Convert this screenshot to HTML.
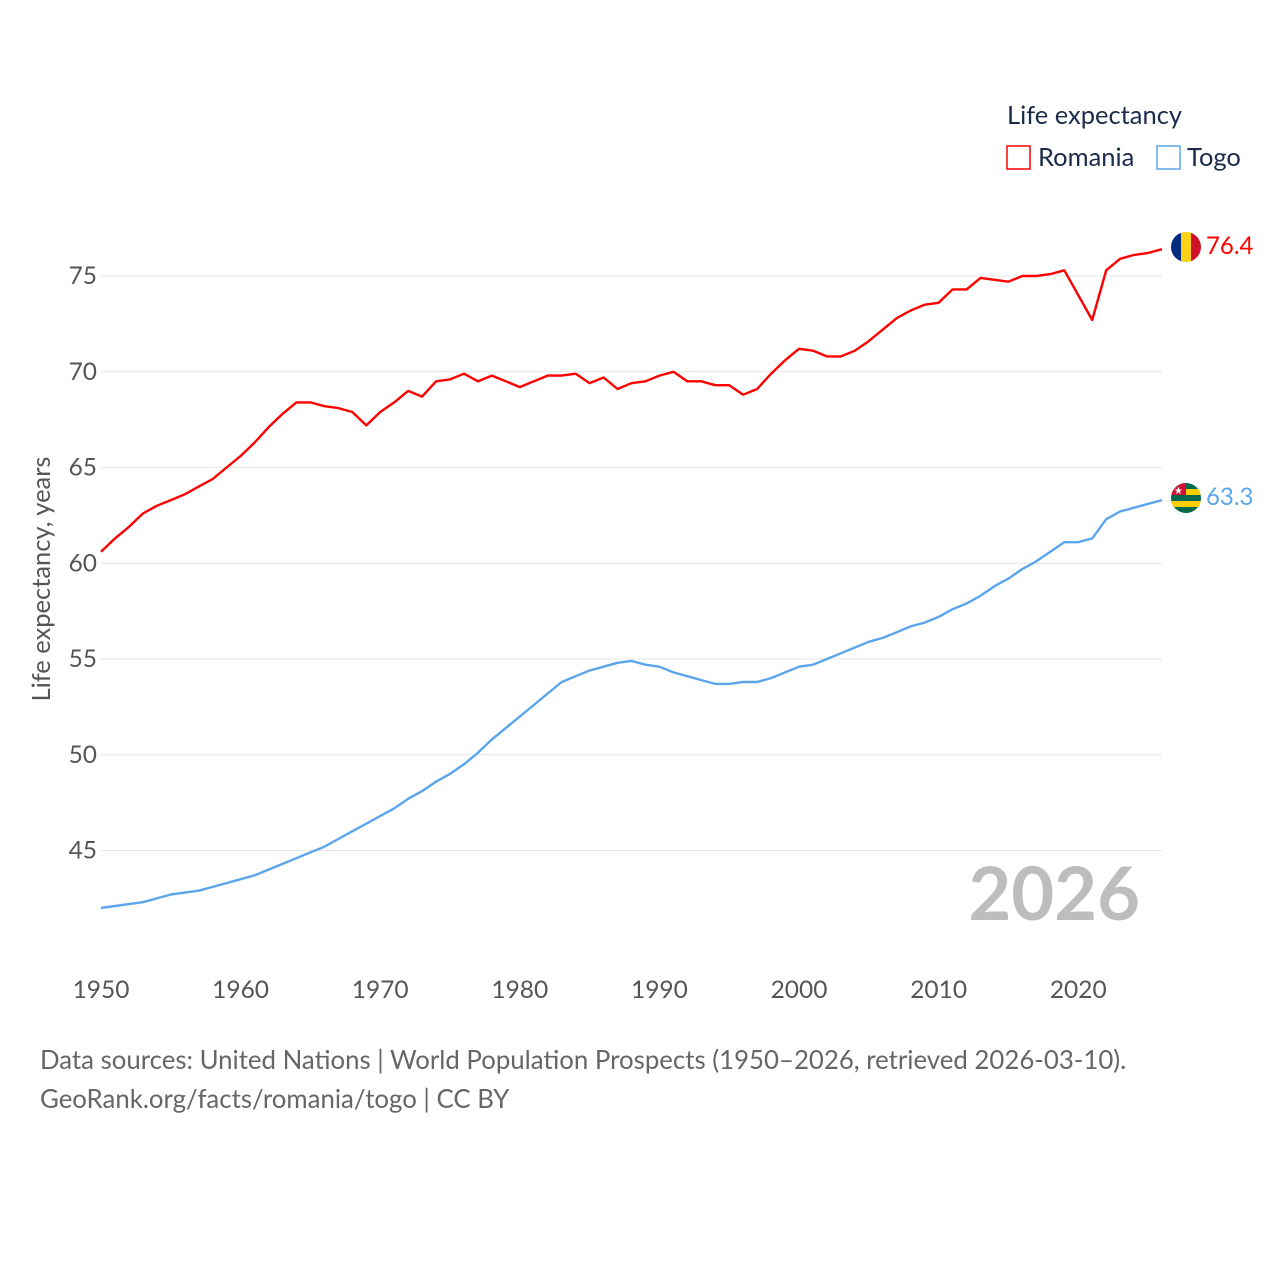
<!DOCTYPE html>
<html><head><meta charset="utf-8"><style>
body{margin:0;background:#fff;font-family:"Liberation Sans",sans-serif}
</style></head><body>
<svg width="1280" height="1280" xmlns="http://www.w3.org/2000/svg" font-family="Lato,'Liberation Sans',sans-serif">
<g id="grid"></g>
<g id="yticks"></g>
<g id="xticks"></g>
<text transform="translate(50,579) rotate(-90)" text-anchor="middle" font-size="25.5" fill="#555">Life expectancy, years</text>
<text x="1140" y="920" text-anchor="end" font-size="74" font-weight="bold" fill="#bdbdbd">2026</text>
<g id="series"></g>
<g>
<text x="1007" y="124" font-size="25.5" fill="#1b2b4b">Life expectancy</text>
<g><rect x="1007" y="146" width="23" height="23" fill="none" stroke="#ff0000" stroke-width="1.5"/><text x="1038" y="166" font-size="25.5" fill="#1b2b4b">Romania</text></g>
<g><rect x="1157" y="146" width="23" height="23" fill="none" stroke="#5aa5eb" stroke-width="1.5"/><text x="1187" y="166" font-size="25.5" fill="#1b2b4b">Togo</text></g>
</g>
<defs>
<clipPath id="c1"><circle cx="1186" cy="247" r="15"/></clipPath>
<clipPath id="c2"><circle cx="1186" cy="498" r="15"/></clipPath>
</defs>
<g clip-path="url(#c1)">
<rect x="1171" y="232" width="10" height="30" fill="#002b7f"/><rect x="1181" y="232" width="10" height="30" fill="#fcd116"/><rect x="1191" y="232" width="10" height="30" fill="#ce1126"/>
</g>
<g clip-path="url(#c2)">
<rect x="1171" y="483" width="30" height="30" fill="#006a4e"/>
<rect x="1171" y="489" width="30" height="6" fill="#ffce00"/><rect x="1171" y="501" width="30" height="6" fill="#ffce00"/>
<rect x="1171" y="483" width="15" height="12" fill="#d21034"/>
<text x="1178.5" y="494" font-size="10" fill="#fff" text-anchor="middle">★</text>
</g>
<text x="1206" y="254" font-size="24" fill="#ff0000">76.4</text>
<text x="1206" y="505" font-size="24" fill="#5aa5eb">63.3</text>
<text x="40" y="1069" font-size="25.8" fill="#666">Data sources: United Nations | World Population Prospects (1950–2026, retrieved 2026-03-10).</text>
<text x="40" y="1108" font-size="25.8" fill="#666">GeoRank.org/facts/romania/togo | CC BY</text>
</svg>
<script>
const years=[];for(let y=1950;y<=2026;y++)years.push(y);
const romania=[60.6,61.3,61.9,62.6,63.0,63.3,63.6,64.0,64.4,65.0,65.6,66.3,67.1,67.8,68.4,68.4,68.2,68.1,67.9,67.2,67.9,68.4,69.0,68.7,69.5,69.6,69.9,69.5,69.8,69.5,69.2,69.5,69.8,69.8,69.9,69.4,69.7,69.1,69.4,69.5,69.8,70.0,69.5,69.5,69.3,69.3,68.8,69.1,69.9,70.6,71.2,71.1,70.8,70.8,71.1,71.6,72.2,72.8,73.2,73.5,73.6,74.3,74.3,74.9,74.8,74.7,75.0,75.0,75.1,75.3,74.0,72.7,75.3,75.9,76.1,76.2,76.4];
const togo=[42.0,42.1,42.2,42.3,42.5,42.7,42.8,42.9,43.1,43.3,43.5,43.7,44.0,44.3,44.6,44.9,45.2,45.6,46.0,46.4,46.8,47.2,47.7,48.1,48.6,49.0,49.5,50.1,50.8,51.4,52.0,52.6,53.2,53.8,54.1,54.4,54.6,54.8,54.9,54.7,54.6,54.3,54.1,53.9,53.7,53.7,53.8,53.8,54.0,54.3,54.6,54.7,55.0,55.3,55.6,55.9,56.1,56.4,56.7,56.9,57.2,57.6,57.9,58.3,58.8,59.2,59.7,60.1,60.6,61.1,61.1,61.3,62.3,62.7,62.9,63.1,63.3];
const yTicks=[45,50,55,60,65,70,75];
const xTicks=[1950,1960,1970,1980,1990,2000,2010,2020];
const X=y=>101+(y-1950)*(1162-101)/76;
const Y=v=>276+(75-v)*19.15;
const NS="http://www.w3.org/2000/svg";
function mk(t,a,p){const e=document.createElementNS(NS,t);for(const k in a)e.setAttribute(k,a[k]);p.appendChild(e);return e;}
const grid=document.getElementById('grid'),yt=document.getElementById('yticks'),xt=document.getElementById('xticks'),ser=document.getElementById('series');
yTicks.forEach(v=>{
 const l=mk('line',{x1:101,x2:1162,y1:Y(v),y2:Y(v),stroke:'#e6e6e6','stroke-width':1},grid);
 
 
 const t=mk('text',{x:97,y:Y(v)+8,'text-anchor':'end','font-size':24.5,fill:'#555'},yt);t.textContent=v;
 
 
});
xTicks.forEach(y=>{
 const t=mk('text',{x:X(y),y:998,'text-anchor':'middle','font-size':24.5,fill:'#555'},xt);t.textContent=y;
 
 
});
function line(data,color,name){
 const d=data.map((v,i)=>(i?'L':'M')+X(years[i]).toFixed(1)+','+Y(v).toFixed(1)).join('');
 const p=mk('path',{d:d,fill:'none',stroke:color,'stroke-width':2.4,'stroke-linejoin':'round'},ser);
 
 
}
line(romania,'#ff0000','romania-line');
line(togo,'#5aa5eb','togo-line');
</script>
</body></html>
